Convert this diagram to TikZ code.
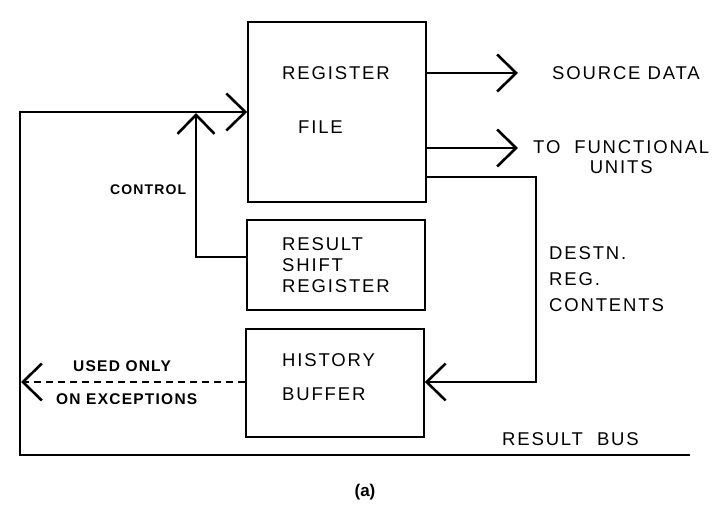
\documentclass[tikz,border=0pt]{standalone}
\usepackage{fontspec}
\setmainfont{Liberation Sans}
\newfontfamily\plotfont[LetterSpace=10]{Liberation Sans}
\newfontfamily\smallplotfont[LetterSpace=8]{Liberation Sans Bold}
\usetikzlibrary{positioning,arrows.meta}
\tikzstyle{line} = [draw, line width=1.6pt, -{Straight Barb[length=19pt,width=37pt,line width=2.6pt]}]
\tikzstyle{plain} = [draw, line width=1.6pt]
\tikzstyle{dashline} = [line, dashed, dash pattern=on 7pt off 5pt]
\tikzstyle{block} = [rectangle, draw, line width=1.6pt, minimum width=178pt, inner sep=0pt]
\tikzstyle{label} = [text=black, font=\plotfont\fontsize{18.5}{20}\selectfont, anchor=west, inner sep=0pt, align=left]
\tikzstyle{small_label} = [label, font=\smallplotfont\fontsize{15.5}{17}\selectfont]

\begin{document}
\begin{tikzpicture}[x=1pt, y=-1pt]
   \useasboundingbox (0,0) rectangle (726,526);

   % Blocks
   \node at (337,112) [block, minimum height=180pt] (register file) {};
   \node at (336,265) [block, minimum height=90pt] (shift register) {};
   \node at (335,383) [block, minimum height=108pt] (history buffer) {};

   % Block texts
   \node at (282,73) [label] (rf text1) {REGISTER};
   \node at (298,127) [label] (rf text2) {FILE};
   \node at (282,265) [label, align=left, font=\plotfont\fontsize{18.5}{21}\selectfont] (rsr text) {RESULT\\SHIFT\\REGISTER};
   \node at (282,360) [label] (hb text1) {HISTORY};
   \node at (282,394) [label] (hb text2) {BUFFER};

   % Outputs of the register file
   \coordinate (source end) at (518,73);
   \coordinate (units end) at (518,148);
   \path [line] (register file.east |- source end) -- (source end);
   \path [line] (register file.east |- units end) -- (units end);
   \node at (552,73) [label] (source text) {SOURCE~DATA};
   \node at (533,157) [label, align=center] (units text) {TO~~FUNCTIONAL\\UNITS};

   % Destination register contents
   \coordinate (destn top) at (536,177);
   \coordinate (destn bottom) at (536,382);
   \path [line] (register file.east |- destn top) -- (destn top) -- (destn bottom) -- (history buffer.east |- destn bottom);
   \node at (549,279) [label, font=\plotfont\fontsize{18.5}{26}\selectfont] (destn text) {DESTN.\\REG.\\CONTENTS};

   % Control
   \coordinate (control corner) at (196,257);
   \coordinate (control tip) at (196,113);
   \path [line] (shift register.west |- control corner) -- (control corner) -- (control tip);
   \node at (110,190) [small_label, font=\smallplotfont\fontsize{14}{16}\selectfont] (control text) {CONTROL};

   % Result bus
   \coordinate (bus end) at (690,455);
   \coordinate (bus corner) at (20,455);
   \coordinate (bus top) at (20,112);
   \path [line] (bus end) -- (bus corner) -- (bus top) -- (register file.west);
   \node at (502,439) [label] (bus text) {RESULT~~BUS};

   % Exceptions
   \coordinate (exception end) at (21,382);
   \path [dashline] (history buffer.west |- exception end) -- (exception end);
   \node at (73,366) [small_label] (used text) {USED ONLY};
   \node at (56,399) [small_label] (exception text) {ON EXCEPTIONS};

   % Caption
   \node at (365,492) [font=\bfseries\fontsize{17}{19}\selectfont] (caption) {(a)};
\end{tikzpicture}
\end{document}
